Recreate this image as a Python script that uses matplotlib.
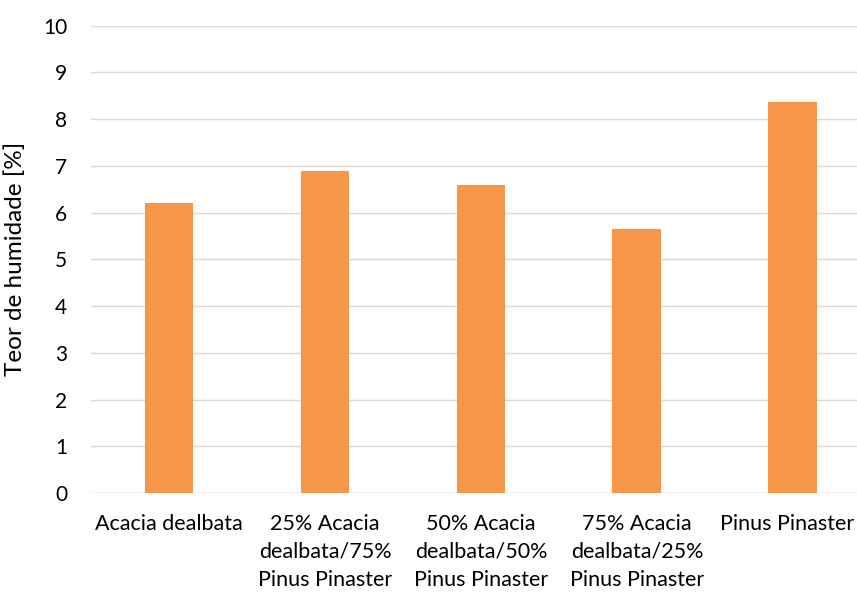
import matplotlib
matplotlib.use("Agg")
import matplotlib.pyplot as plt
import matplotlib.transforms as mtransforms

plt.rcParams['font.family'] = ['Lato', 'DejaVu Sans']

categories = [
    "Acacia dealbata",
    "25% Acacia\ndealbata/75%\nPinus Pinaster",
    "50% Acacia\ndealbata/50%\nPinus Pinaster",
    "75% Acacia\ndealbata/25%\nPinus Pinaster",
    "Pinus Pinaster",
]
humidity = [6.2, 6.9, 6.6, 5.64, 8.36]
y_ticks = list(range(0, 11))

fig = plt.figure(figsize=(8.57, 5.94), dpi=100)
ax = fig.add_axes([0.1062, 0.170, 0.9101, 0.7867])

x = list(range(len(categories)))
ax.bar(x, humidity, width=0.314, color="#F79646", zorder=3)

ax.set_xlim(-0.5, len(categories) - 0.5)
ax.set_ylim(0, 10)
ax.set_yticks(y_ticks)
ax.set_xticks(x)
ax.set_xticklabels(categories, fontsize=15.5, linespacing=1.5, color="#000000")
ax.tick_params(axis="y", length=0, pad=17, labelsize=15, labelcolor="#000000")
ax.tick_params(axis="x", length=0, pad=15)

# keep the last category label inside the figure edge
last = ax.get_xticklabels()[-1]
last.set_transform(last.get_transform() +
                   mtransforms.ScaledTranslation(-6 / 100, 0, fig.dpi_scale_trans))

ax.grid(axis="y", color="#D9D9D9", linewidth=1.0, zorder=0)
for s in ax.spines.values():
    s.set_visible(False)
ax.axhline(0, color="#D9D9D9", linewidth=1.0, zorder=2)

ax.set_ylabel("Teor de humidade [%]", fontsize=17.5, labelpad=12, color="#000000")

fig.savefig("out.png", dpi=100)
